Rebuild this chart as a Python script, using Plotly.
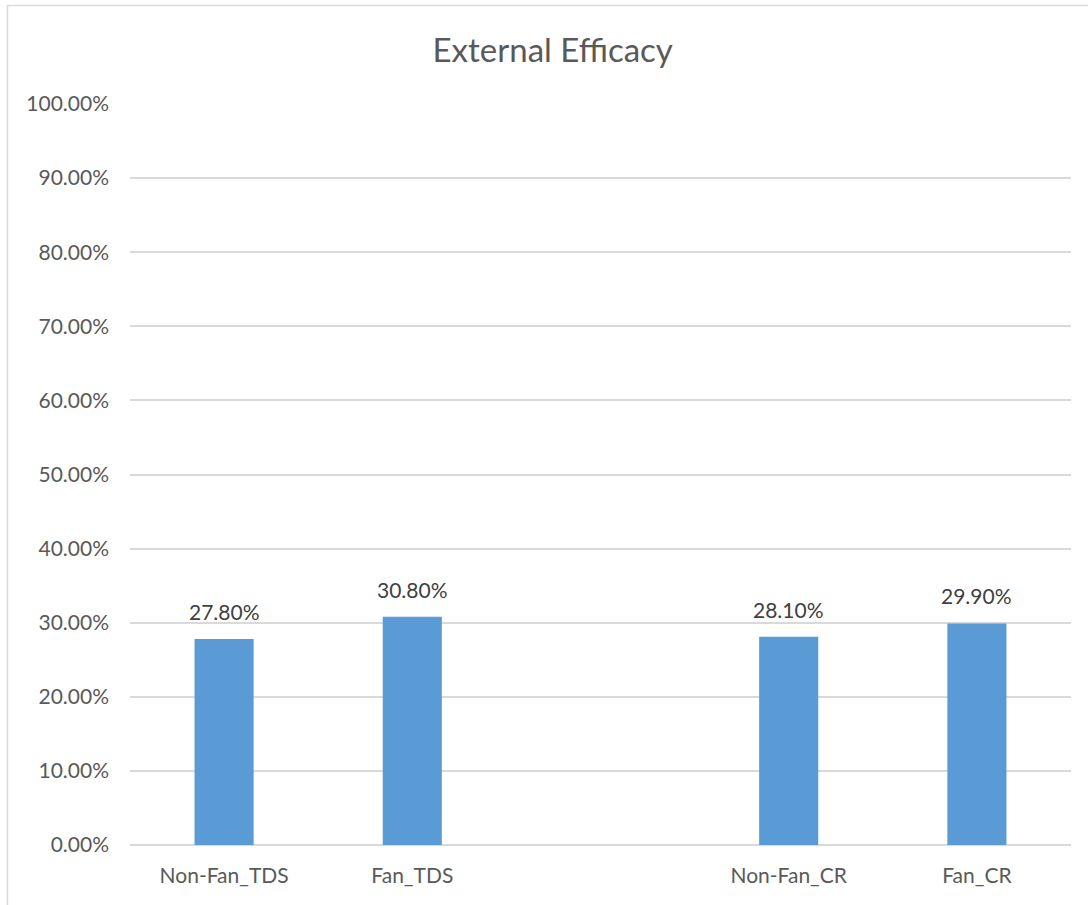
import plotly.graph_objects as go

# Groups; the blank entry keeps the gap between the TDS and CR pairs
categories = ["Non-Fan_TDS", "Fan_TDS", " ", "Non-Fan_CR", "Fan_CR"]
values = [0.278, 0.308, None, 0.281, 0.299]
y_ticks = [i / 10 for i in range(11)]

W, H = 1088, 905
ML, MR, MT, MB = 130, 17, 104, 60
FONT = "Lato, Open Sans, sans-serif"

fig = go.Figure()
fig.add_trace(go.Bar(
    x=categories,
    y=values,
    marker=dict(color="#5b9bd5", line=dict(width=0)),
    width=0.314,
    hoverinfo="x+y",
))

# value labels above each bar
for c, v in zip(categories, values):
    if v is None:
        continue
    fig.add_annotation(
        x=c, y=v, text=f"{v:.2%}", showarrow=False,
        yanchor="bottom", yshift=13,
        font=dict(family=FONT, size=21, color="#404040"),
    )

pw = W - ML - MR
ph = H - MT - MB
# outer chart border
fig.add_shape(
    type="rect", xref="paper", yref="paper",
    x0=(7.5 - ML) / pw, x1=(W + 5 - ML) / pw,
    y0=-(MB + 5) / ph,
    y1=(H - 5.5 - MB) / ph,
    line=dict(color="#d9d9d9", width=1.5), fillcolor="rgba(0,0,0,0)",
    layer="below",
)

fig.update_layout(
    width=W, height=H,
    margin=dict(l=ML, r=MR, t=MT, b=MB),
    paper_bgcolor="white", plot_bgcolor="white",
    showlegend=False,
    title=dict(
        text="External Efficacy", x=0.508, xanchor="center",
        y=1 - 50 / H, yanchor="middle",
        font=dict(family=FONT, size=33, color="#595959"),
    ),
    font=dict(family=FONT, color="#595959"),
)
fig.update_xaxes(
    type="category", categoryorder="array", categoryarray=categories,
    showgrid=False, showline=False, zeroline=False, ticks="",
    tickfont=dict(size=21, color="#595959"),
    ticklabelstandoff=16,
)
fig.update_yaxes(
    range=[0, 1], tickvals=y_ticks, tickformat=".2%",
    showgrid=True, gridcolor="#d9d9d9", gridwidth=1.5,
    zeroline=True, zerolinecolor="#d9d9d9", zerolinewidth=1.5,
    showline=False, ticks="",
    tickfont=dict(size=21, color="#595959"),
    ticklabelstandoff=20,
)

fig.write_html("out.html")
